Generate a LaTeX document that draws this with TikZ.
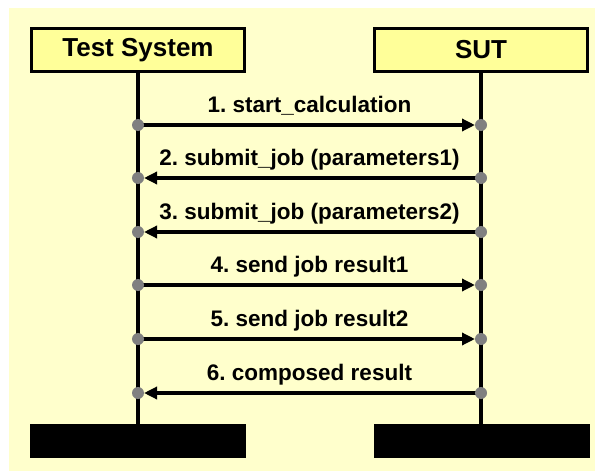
\documentclass[tikz,border=0pt]{standalone}
\usepackage{fontspec}
\setmainfont{Liberation Sans}
\usetikzlibrary{arrows.meta}
\definecolor{bgyellow}{RGB}{255,255,204}
\definecolor{boxyellow}{RGB}{255,255,153}
\definecolor{dotgray}{RGB}{128,128,128}
\frenchspacing
\begin{document}
\begin{tikzpicture}[x=1pt,y=-1pt,
  actor/.style={draw=black, line width=3.5pt, fill=boxyellow, minimum width=213pt,
    minimum height=43pt, inner sep=0pt, font=\bfseries\fontsize{26}{30}\selectfont},
  endbox/.style={fill=black, minimum width=216pt, minimum height=34pt, inner sep=0pt},
  lifeline/.style={line width=3.5pt, black},
  msg/.style={line width=3.5pt, black, -{Triangle[length=13pt,width=12pt]}, shorten >=6pt},
  msglabel/.style={anchor=base, yshift=13pt, inner sep=0pt, font=\bfseries\fontsize{22.5}{26}\selectfont},
  dot/.style={fill=dotgray}]
\useasboundingbox (0,0) rectangle (595,471);
\fill[bgyellow] (9,8) rectangle (595,471);
\node[actor] (ts) at (138,50) {Test System};
\node[actor] (sut) at (481,50) {SUT};
\node[endbox] (tsend) at (138,441) {};
\node[endbox] (sutend) at (481.5,441) {};
\draw[lifeline] (ts.south) -- (tsend.north);
\draw[lifeline] (sut.south) -- (sut.south |- sutend.north);
\foreach \i/\y in {1/125,2/178,3/232,4/285,5/339,6/393}{
  \coordinate (L\i) at (138,\y);
  \coordinate (R\i) at (481,\y);
}
\draw[msg] (L1) -- (R1) node[midway, msglabel] {1. start\_calculation};
\draw[msg] (R2) -- (L2) node[midway, msglabel] {2. submit\_job (parameters1)};
\draw[msg] (R3) -- (L3) node[midway, msglabel] {3. submit\_job (parameters2)};
\draw[msg] (L4) -- (R4) node[midway, msglabel] {4. send job result1};
\draw[msg] (L5) -- (R5) node[midway, msglabel] {5. send job result2};
\draw[msg] (R6) -- (L6) node[midway, msglabel] {6. composed result};
\foreach \i in {1,...,6}{
  \fill[dot] (L\i) circle (6pt);
  \fill[dot] (R\i) circle (6pt);
}
\end{tikzpicture}
\end{document}
